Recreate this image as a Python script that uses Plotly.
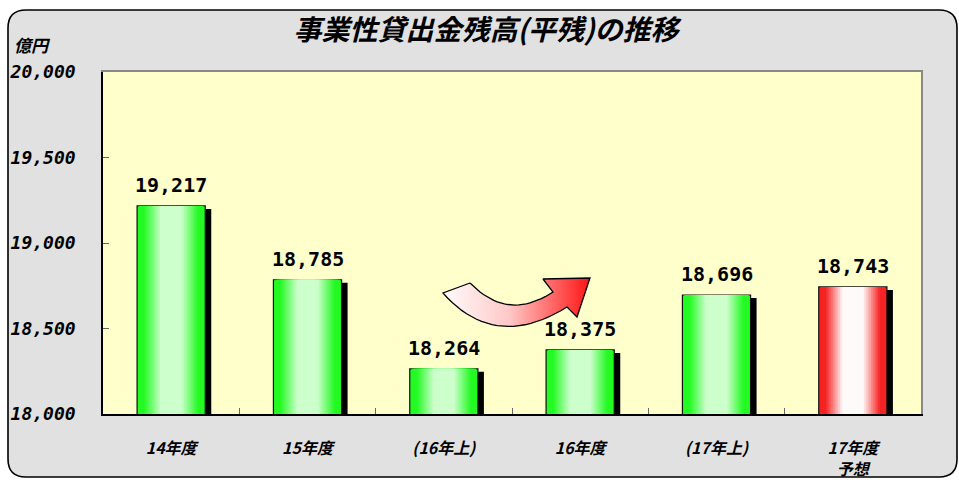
import numpy as np
import plotly.graph_objects as go

# ---------------- data ----------------
categories = ["14年度", "15年度", "(16年上)", "16年度", "(17年上)", "17年度<br>予想"]
values = [19217, 18785, 18264, 18375, 18696, 18743]
value_labels = ["19,217", "18,785", "18,264", "18,375", "18,696", "18,743"]
is_forecast = [False, False, False, False, False, True]
y_tickvals = [18000, 18500, 19000, 19500, 20000]
y_ticktext = ["18,000", "18,500", "19,000", "19,500", "20,000"]
title_text = "事業性貸出金残高(平残)の推移"
unit_text = "億円"

# ---------------- layout geometry ----------------
W, H = 959, 480
L, T, R, B = 103, 72, 921, 414
PW, PH = R - L, B - T

def pxx(x):
    return (x - L) / PW

def pxy(y):
    return (B - y) / PH

JP = "Noto Sans CJK JP"
MONO = "DejaVu Sans Mono"

fig = go.Figure()

# shadow bars
shadow_dx = 6 / PW * 6  # in category units
shadow_dy = 3 * (2000 / PH)
fig.add_trace(go.Bar(
    x=categories, y=[v - shadow_dy for v in values],
    width=0.5, offset=-0.25 + shadow_dx,
    marker=dict(color="black", line=dict(width=0)),
    hoverinfo="skip", showlegend=False,
))

# gradient bars via layered overlay
def lerp(c1, c2, t):
    return tuple(c1[i] + (c2[i] - c1[i]) * t for i in range(3))

def rgb(c):
    return "rgb(%d,%d,%d)" % tuple(int(round(v)) for v in c)

N = 16
g_edge = (35, 250, 35)
g_core = (205, 255, 205)
r_edge = (245, 35, 35)
r_core = (255, 250, 250)
for k in range(N):
    f = 1 - 0.78 * k / (N - 1)
    w = 0.5 * f
    if f > 0.82:
        t = 0.0
    else:
        t = min(1.0, (0.82 - f) / 0.5)
    gc = lerp(g_edge, g_core, t)
    rc = lerp(r_edge, r_core, t)
    cols = [rgb(rc) if fc else rgb(gc) for fc in is_forecast]
    fig.add_trace(go.Bar(
        x=categories, y=values, width=w,
        marker=dict(color=cols,
                    line=dict(color="#111", width=1.2 if k == 0 else 0)),
        hoverinfo="skip", showlegend=False,
    ))

# curved arrow (decoration) on pixel-space overlay axes
def qbez(p0, c, p2, n=24):
    t = np.linspace(0, 1, n)
    x = (1 - t) ** 2 * p0[0] + 2 * (1 - t) * t * c[0] + t ** 2 * p2[0]
    y = (1 - t) ** 2 * p0[1] + 2 * (1 - t) * t * c[1] + t ** 2 * p2[1]
    return list(x), list(y)

ux, uy = qbez((470, 283), (508, 322), (553, 292))
lx, ly = qbez((567, 307), (495, 352), (443, 293))
ax_ = ux + [543, 590, 577] + lx + [470]
ay_ = uy + [279, 278, 317] + ly + [283]
fig.add_trace(go.Scatter(
    x=ax_, y=ay_, xaxis="x2", yaxis="y2", mode="lines", fill="toself",
    line=dict(color="black", width=1.3),
    fillgradient=dict(type="horizontal",
                      colorscale=[[0, "rgb(255,252,252)"], [0.45, "rgb(255,200,200)"],
                                  [1, "rgb(255,20,20)"]]),
    hoverinfo="skip", showlegend=False,
))

# background shapes
x0, y0, x1, y1, r = 8, 10, 957, 477, 18
path = (f"M {pxx(x0 + r)},{pxy(y0)} L {pxx(x1 - r)},{pxy(y0)} "
        f"Q {pxx(x1)},{pxy(y0)} {pxx(x1)},{pxy(y0 + r)} "
        f"L {pxx(x1)},{pxy(y1 - r)} Q {pxx(x1)},{pxy(y1)} {pxx(x1 - r)},{pxy(y1)} "
        f"L {pxx(x0 + r)},{pxy(y1)} Q {pxx(x0)},{pxy(y1)} {pxx(x0)},{pxy(y1 - r)} "
        f"L {pxx(x0)},{pxy(y0 + r)} Q {pxx(x0)},{pxy(y0)} {pxx(x0 + r)},{pxy(y0)} Z")
shapes = [
    dict(type="path", path=path, xref="paper", yref="paper", layer="below",
         fillcolor="#E1E1E1", line=dict(color="black", width=1.6)),
    dict(type="rect", x0=0, x1=1, y0=0, y1=1, xref="paper", yref="paper",
         layer="below", fillcolor="#FFFFCC", line=dict(width=0)),
]

annotations = [dict(text=unit_text, xref="paper", yref="paper", x=pxx(12), y=pxy(45),
                    xanchor="left", yanchor="middle", showarrow=False,
                    font=dict(family=JP, size=17, color="black", weight="bold", style="italic"))]
for c, v, lab in zip(categories, values, value_labels):
    annotations.append(dict(
        x=c, y=v, xref="x", yref="y", text=lab, showarrow=False,
        xanchor="center", yanchor="bottom", yshift=7,
        font=dict(family=MONO, size=20, color="black", weight="bold")))

fig.update_layout(
    width=W, height=H,
    margin=dict(l=L, r=W - R, t=T, b=H - B, autoexpand=False),
    paper_bgcolor="white", plot_bgcolor="rgba(0,0,0,0)",
    barmode="overlay",
    shapes=shapes,
    title=dict(text=title_text, x=486 / W, xanchor="center", xref="container",
               y=1 - 30 / H, yanchor="middle", yref="container",
               font=dict(family=JP, size=28, color="black", weight="bold", style="italic")),
    annotations=annotations,
    xaxis=dict(type="category", range=[-0.5, 5.5], showline=True, linecolor="black",
               linewidth=1.5, ticks="inside", tickson="boundaries", ticklen=6,
               tickcolor="#666", showgrid=False, zeroline=False, ticklabelstandoff=19,
               automargin=False,
               tickfont=dict(family=JP, size=16, color="black", weight="bold", style="italic")),
    yaxis=dict(range=[18000, 20000], tickvals=y_tickvals, ticktext=y_ticktext,
               showline=True, linecolor="black", linewidth=1.5, ticks="inside",
               ticklen=6, tickcolor="#666", showgrid=False, zeroline=False,
               ticklabelstandoff=22, automargin=False,
               tickfont=dict(family=MONO, size=18, color="black", weight="bold", style="italic")),
    xaxis2=dict(overlaying="x", side="top", range=[L, R], showline=True, linecolor="#888",
                linewidth=1.5, showticklabels=False, ticks="", showgrid=False, zeroline=False,
                anchor="y2", automargin=False),
    yaxis2=dict(overlaying="y", side="right", range=[B, T], showline=True, linecolor="#888",
                linewidth=1.5, showticklabels=False, ticks="", showgrid=False, zeroline=False,
                anchor="x2", automargin=False),
    hovermode=False,
)

fig.write_html("out.html", config={"displayModeBar": False},
               post_script="document.body.style.margin='0';document.body.style.overflow='hidden';")
